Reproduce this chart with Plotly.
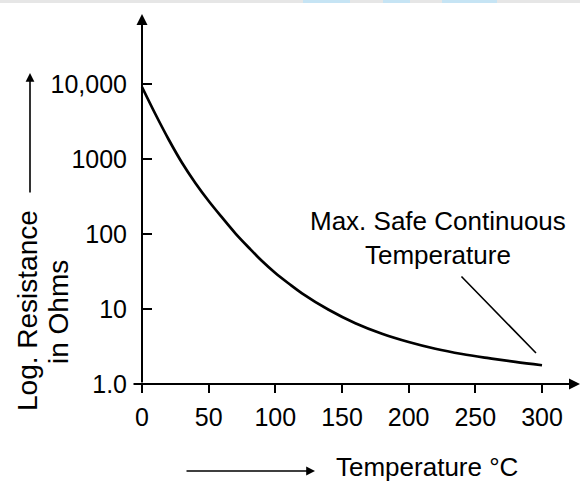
import math
import plotly.graph_objects as go

# ---- data ----
temperature_c = [0, 10, 20, 30, 40, 50, 60, 70, 80, 90, 100, 110, 120, 140,
                 160, 180, 200, 220, 240, 260, 280, 300]
resistance_ohm = [9120, 3980, 1820, 891, 479, 275, 166, 102, 66, 43.6, 30.2,
                  21.9, 16.2, 9.77, 6.46, 4.68, 3.63, 2.95, 2.51, 2.21, 1.97,
                  1.78]

x_tick_vals = [0, 50, 100, 150, 200, 250, 300]
x_tick_text = ["0", "50", "100", "150", "200", "250", "300"]
y_tick_vals = [1, 10, 100, 1000, 10000]
y_tick_text = ["1.0", "10", "100", "1000", "10,000"]

note_point_temp = 295.5
note_point_res = 2.59

FONT = "Liberation Sans, Arial, sans-serif"
W, H = 580, 485
L, R, T, B = 132, 0, 14, 101
X_RANGE = [-7.5, 328.5]
Y_RANGE = [0, 4.933]


def px(xp):
    return (xp - L) / (W - L - R)


def py(yp):
    return (H - B - yp) / (H - T - B)


fig = go.Figure()
fig.add_trace(go.Scatter(
    x=temperature_c, y=resistance_ohm, mode="lines",
    line=dict(color="black", width=2.7, shape="spline", smoothing=1.0),
    hoverinfo="skip", showlegend=False,
))

annotations = []
# axis lines with arrowheads
annotations.append(dict(x=X_RANGE[1], y=0, xref="x", yref="y",
                        ax=X_RANGE[0], ay=0, axref="x", ayref="y",
                        text="", showarrow=True, arrowhead=2, arrowsize=1.1,
                        arrowwidth=2, arrowcolor="black"))
annotations.append(dict(x=0, y=Y_RANGE[1], xref="x", yref="y",
                        ax=0, ay=0, axref="x", ayref="y",
                        text="", showarrow=True, arrowhead=2, arrowsize=1.1,
                        arrowwidth=2, arrowcolor="black"))
# leader line for the note
annotations.append(dict(x=note_point_temp, y=math.log10(note_point_res),
                        xref="x", yref="y", ax=-76, ay=-78,
                        text="", showarrow=True, arrowhead=0, arrowwidth=1.6,
                        arrowcolor="black"))
annotations.append(dict(x=px(438), y=py(238), xref="paper", yref="paper",
                        text="Max. Safe Continuous<br>Temperature",
                        showarrow=False, xanchor="center", yanchor="middle",
                        font=dict(family=FONT, size=26, color="black")))
# y-axis title
annotations.append(dict(x=px(27), y=py(311), xref="paper", yref="paper",
                        text="Log. Resistance", textangle=-90, showarrow=False,
                        xanchor="center", yanchor="middle",
                        font=dict(family=FONT, size=28, color="black")))
annotations.append(dict(x=px(58.5), y=py(312.5), xref="paper", yref="paper",
                        text="in Ohms", textangle=-90, showarrow=False,
                        xanchor="center", yanchor="middle",
                        font=dict(family=FONT, size=28, color="black")))
annotations.append(dict(x=px(30), y=py(73), xref="paper", yref="paper",
                        ax=0, ay=121, text="", showarrow=True, arrowhead=2,
                        arrowsize=1.1, arrowwidth=1.6, arrowcolor="black"))
# x-axis title
annotations.append(dict(x=px(427), y=py(467), xref="paper", yref="paper",
                        text="Temperature °C", showarrow=False,
                        xanchor="center", yanchor="middle", borderpad=0,
                        font=dict(family=FONT, size=26, color="black")))
annotations.append(dict(x=px(315), y=py(471), xref="paper", yref="paper",
                        ax=-130, ay=0, text="", showarrow=True, arrowhead=2,
                        arrowsize=1.1, arrowwidth=1.6, arrowcolor="black"))

shapes = [
    dict(type="rect", xref="paper", yref="paper", x0=px(0), x1=px(580),
         y0=py(3), y1=py(0), line=dict(width=0), fillcolor="#e6e6e6",
         layer="below"),
]
for a, b in [(303, 350), (383, 410), (442, 497)]:
    shapes.append(dict(type="rect", xref="paper", yref="paper", x0=px(a),
                       x1=px(b), y0=py(3), y1=py(0), line=dict(width=0),
                       fillcolor="#c6e4f4", layer="below"))

fig.update_layout(
    width=W, height=H,
    margin=dict(l=L, r=R, t=T, b=B, pad=0),
    paper_bgcolor="white", plot_bgcolor="white",
    showlegend=False,
    font=dict(family=FONT, size=25, color="black"),
    xaxis=dict(range=X_RANGE, showgrid=False, zeroline=False, showline=False,
               tickmode="array", tickvals=x_tick_vals, ticktext=x_tick_text,
               ticks="outside", ticklen=8, tickwidth=2, tickcolor="black",
               ticklabelstandoff=3,
               tickfont=dict(family=FONT, size=25, color="black")),
    yaxis=dict(type="log", range=Y_RANGE, showgrid=False, zeroline=False,
               showline=False, anchor="free", position=px(142),
               tickmode="array", tickvals=y_tick_vals, ticktext=y_tick_text,
               ticks="inside", ticklen=9, tickwidth=2, tickcolor="black",
               ticklabelstandoff=15,
               tickfont=dict(family=FONT, size=25, color="black")),
    annotations=annotations,
    shapes=shapes,
)

fig.write_html(
    "out.html",
    config={"displayModeBar": False},
    post_script="document.body.style.margin='0';document.body.style.padding='0';",
)
